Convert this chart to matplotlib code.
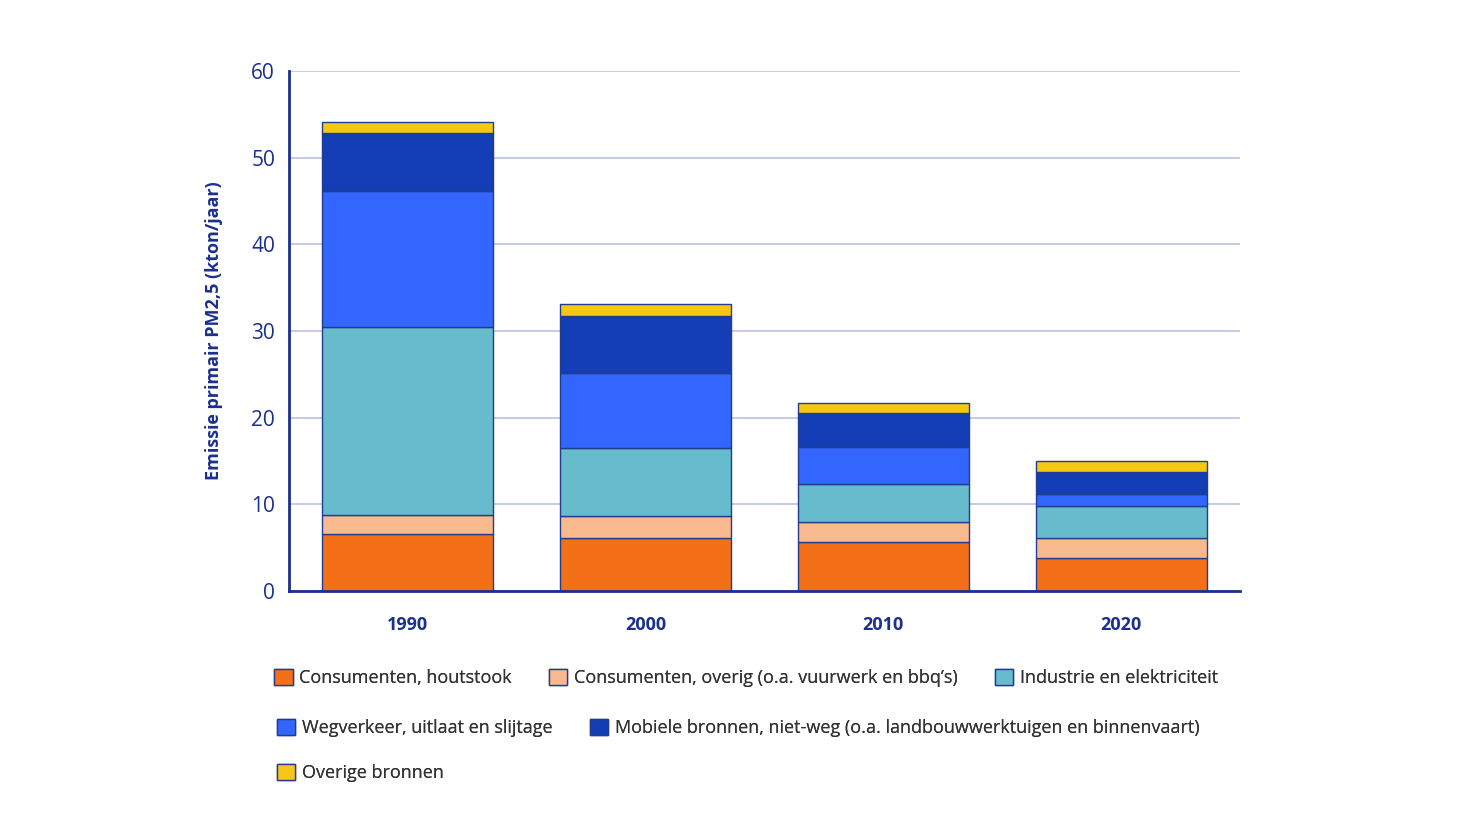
import matplotlib.pyplot as plt
from matplotlib.patches import Patch

plt.rcParams['font.family'] = ['Open Sans', 'DejaVu Sans']

years = ["1990", "2000", "2010", "2020"]
houtstook = [6.6, 6.1, 5.65, 3.8]
overig_cons = [2.2, 2.55, 2.3, 2.3]
industrie = [21.7, 7.85, 4.4, 3.7]
wegverkeer = [15.7, 8.65, 4.25, 1.4]
mobiel = [6.6, 6.6, 3.9, 2.5]
overige = [1.3, 1.4, 1.2, 1.3]

labels = [
    "Consumenten, houtstook",
    "Consumenten, overig (o.a. vuurwerk en bbq\u2019s)",
    "Industrie en elektriciteit",
    "Wegverkeer, uitlaat en slijtage",
    "Mobiele bronnen, niet-weg (o.a. landbouwwerktuigen en binnenvaart)",
    "Overige bronnen",
]
colors = ["#f37018", "#f9b98f", "#66bccc", "#3366ff", "#133eb5", "#f5c816"]
series = [houtstook, overig_cons, industrie, wegverkeer, mobiel, overige]

navy = "#1a2f8f"
edge = "#233c8c"

fig = plt.figure(figsize=(14.84, 8.35), dpi=100)
ax = fig.add_axes([0.1947, 0.2922, 0.6409, 0.6228])

x = range(len(years))
bottom = [0.0] * len(years)
for vals, col, lab in zip(series, colors, labels):
    ax.bar(x, vals, 0.72, bottom=bottom, color=col, edgecolor=edge,
           linewidth=1.0, label=lab, zorder=3)
    bottom = [b + v for b, v in zip(bottom, vals)]

ax.set_xlim(-0.5, 3.5)
ax.set_ylim(0, 60)
ax.set_yticks(range(0, 61, 10))
ax.set_xticks(list(x))
ax.set_xticklabels(years, fontsize=13, fontweight="bold", color=navy)
ax.tick_params(axis="y", labelsize=15, colors=navy, length=0, pad=10)
ax.tick_params(axis="x", length=0, pad=18)
ax.grid(axis="y", color="#b3bde0", linewidth=1.1, zorder=0)
ax.set_axisbelow(True)
for s in ["top", "right"]:
    ax.spines[s].set_visible(False)
for s in ["left", "bottom"]:
    ax.spines[s].set_color(navy)
    ax.spines[s].set_linewidth(2)
    ax.spines[s].set_zorder(4)
ax.set_ylabel("Emissie primair PM2,5 (kton/jaar)", fontsize=13,
              fontweight="bold", color=navy, labelpad=20)

handles = [Patch(facecolor=c, edgecolor=edge, linewidth=1.0) for c in colors]
rows = [(0, 3, 0.188, 0.174), (3, 5, 0.128, 0.176), (5, 6, 0.074, 0.176)]
for a, b, yy, xx in rows:
    leg = fig.legend(handles[a:b], labels[a:b], loc="center left",
                     bbox_to_anchor=(xx, yy), ncol=b - a, frameon=False,
                     fontsize=13, handlelength=1.0, handleheight=1.0,
                     handletextpad=0.35, columnspacing=2.1,
                     labelcolor="#333333")
    fig.add_artist(leg)

fig.savefig("out.png", dpi=100)
